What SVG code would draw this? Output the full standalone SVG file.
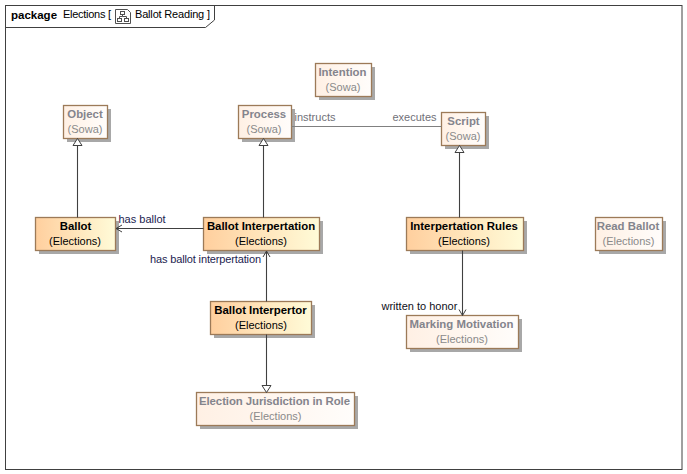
<svg xmlns="http://www.w3.org/2000/svg" width="687" height="474" viewBox="0 0 687 474">
<style>
text{font-family:"Liberation Sans",Arial,sans-serif;font-size:11px;text-anchor:middle}
.n{font-weight:bold;font-size:11.4px}
.l{text-anchor:start;fill:#1c1c50}
.g .s{fill:#8a8a8a}
.g .n{fill:#84848c}
.box{stroke:#9c7a58;stroke-width:1.3}
.sh{fill:#a8a8a8}
.c{fill:none;stroke:#404040;stroke-width:1.1}
</style>
<defs>
<linearGradient id="hot"><stop offset="0" stop-color="#ffcf9e"/><stop offset="1" stop-color="#fffbd8"/></linearGradient>
<linearGradient id="pale"><stop offset="0" stop-color="#fff0e4"/><stop offset="1" stop-color="#fffdfb"/></linearGradient>
<marker id="open" markerUnits="userSpaceOnUse" markerWidth="10" markerHeight="10" refX="8" refY="5" orient="auto"><path d="M2 1.5L8 5L2 8.5" fill="none" stroke="#404040"/></marker>
<marker id="tri" markerUnits="userSpaceOnUse" markerWidth="12" markerHeight="12" refX="8" refY="6" orient="auto"><path d="M1 1.5L8 6L1 10.5Z" fill="#fff" stroke="#404040"/></marker>
</defs>
<rect width="687" height="474" fill="#fff"/>
<g id="frame">
<rect x="5.5" y="5.5" width="676.5" height="464" fill="none" stroke="#404040"/>
<path d="M5.5 27.5H205.5L214.5 20V5.5" fill="none" stroke="#404040"/>
<text x="11" y="18.5" style="text-anchor:start;font-weight:bold;font-size:11.5px">package</text>
<text x="63" y="18" style="text-anchor:start" textLength="48">Elections [</text>
<g fill="none" stroke="#505050" stroke-width="1"><path d="M115.5 9.5H127.5L130.5 12.5V23.5H115.5Z"/><rect x="120.5" y="11.5" width="4" height="3"/><rect x="117.5" y="18.5" width="4" height="3"/><rect x="124.5" y="18.5" width="4" height="3"/><path d="M122.5 14.5V16.5H119.5V18.5M122.5 16.5H126.5V18.5"/></g>
<text x="135" y="18" style="text-anchor:start" textLength="75">Ballot Reading ]</text>
</g>
<g id="object" class="g"><rect class="sh" x="67" y="109" width="44" height="33"/><rect class="box" x="63.5" y="105.5" width="44" height="33" fill="url(#pale)"/><text class="n" x="85" y="118">Object</text><text class="s" x="85" y="133">(Sowa)</text></g>
<g id="intention" class="g"><rect class="sh" x="319" y="67" width="56" height="33"/><rect class="box" x="315.5" y="63.5" width="56" height="33" fill="url(#pale)"/><text class="n" x="342.5" y="76">Intention</text><text class="s" x="343" y="91">(Sowa)</text></g>
<g id="process" class="g"><rect class="sh" x="242" y="109" width="53" height="33"/><rect class="box" x="238.5" y="105.5" width="53" height="33" fill="url(#pale)"/><text class="n" x="264" y="118">Process</text><text class="s" x="264" y="133">(Sowa)</text></g>
<g id="script" class="g"><rect class="sh" x="445" y="116" width="44" height="33"/><rect class="box" x="441.5" y="112.5" width="44" height="33" fill="url(#pale)"/><text class="n" x="463.5" y="125">Script</text><text class="s" x="463" y="140">(Sowa)</text></g>
<g id="ballot"><rect class="sh" x="39" y="221" width="80" height="33"/><rect class="box" x="35.5" y="217.5" width="80" height="33" fill="url(#hot)"/><text class="n" x="75.5" y="230">Ballot</text><text x="75" y="245">(Elections)</text></g>
<g id="ballot-interpertation"><rect class="sh" x="207" y="221" width="116" height="33"/><rect class="box" x="203.5" y="217.5" width="116" height="33" fill="url(#hot)"/><text class="n" x="261" y="230">Ballot Interpertation</text><text x="261" y="245">(Elections)</text></g>
<g id="interpertation-rules"><rect class="sh" x="410" y="221" width="117" height="33"/><rect class="box" x="406.5" y="217.5" width="117" height="33" fill="url(#hot)"/><text class="n" x="464" y="230">Interpertation Rules</text><text x="464" y="245">(Elections)</text></g>
<g id="read-ballot" class="g"><rect class="sh" x="599" y="221" width="67" height="33"/><rect class="box" x="595.5" y="217.5" width="67" height="33" fill="url(#pale)"/><text class="n" x="628" y="230">Read Ballot</text><text class="s" x="628.5" y="245">(Elections)</text></g>
<g id="ballot-interpertor"><rect class="sh" x="214" y="305" width="101" height="33"/><rect class="box" x="210.5" y="301.5" width="101" height="33" fill="url(#hot)"/><text class="n" x="260.5" y="314">Ballot Interpertor</text><text x="261" y="329">(Elections)</text></g>
<g id="marking-motivation" class="g"><rect class="sh" x="410" y="319" width="112" height="33"/><rect class="box" x="406.5" y="315.5" width="112" height="33" fill="url(#pale)"/><text class="n" x="461.5" y="328">Marking Motivation</text><text class="s" x="462" y="343">(Elections)</text></g>
<g id="election-jurisdiction" class="g"><rect class="sh" x="200" y="396" width="158" height="33"/><rect class="box" x="196.5" y="392.5" width="158" height="33" fill="url(#pale)"/><text class="n" x="199" y="405" style="text-anchor:start" textLength="151">Election Jurisdiction in Role</text><text class="s" x="275.5" y="420">(Elections)</text></g>
<g id="connectors">
<path class="c" d="M77.5 217.5V138.5" marker-end="url(#tri)"/>
<path class="c" d="M263.5 217.5V138.5" marker-end="url(#tri)"/>
<path class="c" d="M459.5 217.5V145.5" marker-end="url(#tri)"/>
<path class="c" d="M203.5 228.5H116" marker-end="url(#open)"/>
<path class="c" d="M266.5 301.5V251" marker-end="url(#open)"/>
<path class="c" d="M266.5 334.5V392.5" marker-end="url(#tri)"/>
<path class="c" d="M462.5 250.5V315.5" marker-end="url(#open)"/>
<path class="c" style="stroke:#808080" d="M291.5 126.5H441.5"/>
<text class="l" x="118.5" y="223">has ballot</text>
<text class="l" x="150" y="263" textLength="111">has ballot interpertation</text>
<text class="l" x="294.5" y="121" style="fill:#707078">instructs</text>
<text class="l" x="392.5" y="121" style="fill:#707078">executes</text>
<text class="l" x="381.5" y="310" style="fill:#101020">written to honor</text>
</g>
</svg>
